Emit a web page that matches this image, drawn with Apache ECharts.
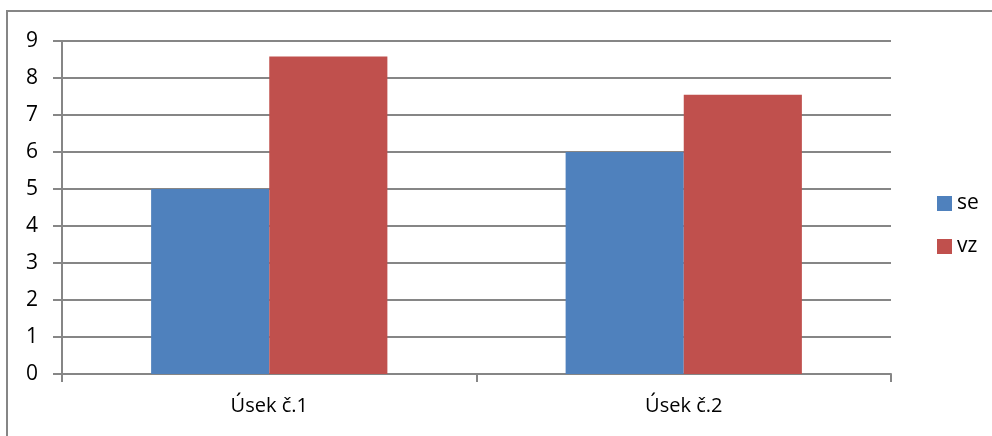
<!DOCTYPE html>
<html>
<head>
<meta charset="utf-8">
<script src="https://cdn.jsdelivr.net/npm/echarts@6/dist/echarts.min.js"></script>
<style>
  html, body { margin: 0; padding: 0; background: #fff; }
  #main { width: 992px; height: 436px; }
</style>
</head>
<body>
<div id="main"></div>
<script>
const categories = ['Úsek č.1', 'Úsek č.2'];
const seValues = [5, 6];
const vzValues = [8.58, 7.55];
const seriesNames = ['se', 'vz'];
const colors = ['#4F81BD', '#C0504D']; // barvy sloupců

let chart = echarts.init(document.getElementById('main'));
const font = 'Open Sans';

chart.setOption({
    backgroundColor: '#fff',
    animation: false,
    color: colors,
    // rámeček grafu (vpravo a dole mimo obraz)
    graphic: [{
        type: 'rect',
        shape: { x: 7, y: 11, width: 1000, height: 450 },
        style: { fill: 'none', stroke: '#868686', lineWidth: 2 }
    }],
    legend: {
        orient: 'vertical',
        left: 932,
        top: 188,
        itemWidth: 15,
        itemHeight: 15,
        itemGap: 22,
        icon: 'rect',
        textStyle: { fontFamily: font, fontSize: 21, color: '#000' },
        data: seriesNames
    },
    grid: { left: 62, right: 101, top: 41, bottom: 62 },
    xAxis: {
        type: 'category',
        data: categories,
        axisLine: { lineStyle: { color: '#868686', width: 2 } },
        axisTick: { show: true, length: 8, lineStyle: { color: '#868686', width: 2 } },
        axisLabel: { fontFamily: font, fontSize: 20, color: '#000', margin: 22 }
    },
    yAxis: {
        type: 'value',
        min: 0,
        max: 9,
        interval: 1,
        axisLine: { show: true, lineStyle: { color: '#868686', width: 2 } },
        axisTick: { show: true, length: 9, lineStyle: { color: '#868686', width: 2 } },
        splitLine: { lineStyle: { color: '#868686', width: 2 } },
        axisLabel: { fontFamily: font, fontSize: 21, color: '#000', margin: 24 }
    },
    series: [{
        name: seriesNames[0],
        type: 'bar',
        data: seValues,
        barGap: '0%',
        barCategoryGap: '43%'
    }, {
        name: seriesNames[1],
        type: 'bar',
        data: vzValues,
        barGap: '0%',
        barCategoryGap: '43%'
    }]
});
</script>
</body>
</html>
